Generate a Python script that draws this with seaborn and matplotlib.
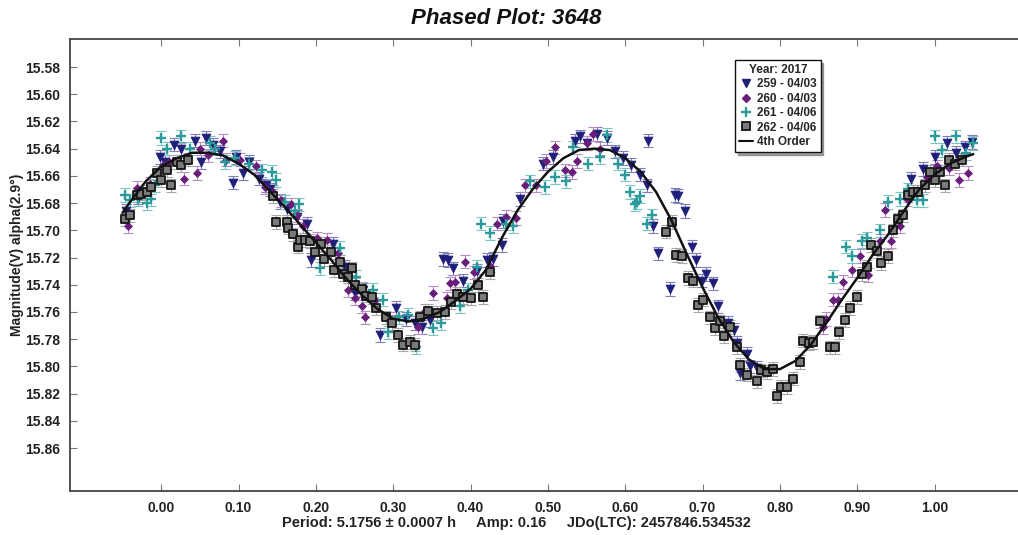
import matplotlib
matplotlib.use("Agg")
import matplotlib.pyplot as plt
import seaborn as sns
from matplotlib.lines import Line2D

# ---------------- data ----------------
TITLE = "Phased Plot: 3648"
YLABEL = "Magnitude(V) alpha(2.9°)"
XLABEL = "Period: 5.1756 ± 0.0007 h     Amp: 0.16     JDo(LTC): 2457846.534532"
LEGEND_TITLE = "Year: 2017"
SERIES_NAMES = ["259 - 04/03", "260 - 04/03", "261 - 04/06", "262 - 04/06", "4th Order"]

XTICKS = [0.00, 0.10, 0.20, 0.30, 0.40, 0.50, 0.60, 0.70, 0.80, 0.90, 1.00]
YTICKS = [15.58, 15.60, 15.62, 15.64, 15.66, 15.68, 15.70, 15.72, 15.74, 15.76,
          15.78, 15.80, 15.82, 15.84, 15.86]
ERR = 0.005

s259_phase = [-0.045, -0.030, -0.002, 0.005, 0.017, 0.025, 0.043, 0.052, 0.058, 0.067,
              0.076, 0.093, 0.097, 0.106, 0.114, 0.127, 0.136, 0.140, 0.153, 0.162,
              0.175, 0.188, 0.194, 0.222, 0.237, 0.250, 0.261, 0.283, 0.304, 0.317,
              0.328, 0.337, 0.347, 0.364, 0.371, 0.377, 0.390, 0.408, 0.421, 0.429,
              0.440, 0.442, 0.464, 0.494, 0.507, 0.535, 0.541, 0.550, 0.563, 0.576,
              0.587, 0.597, 0.608, 0.619, 0.628, 0.630, 0.636, 0.642, 0.658, 0.664,
              0.668, 0.677, 0.686, 0.692, 0.699, 0.705, 0.714, 0.720, 0.733, 0.740,
              0.745, 0.757, 0.748, 0.761, 0.770, 0.970, 0.985, 1.000, 1.016, 1.028,
              1.039, 1.048]
s259_mag = [15.686, 15.676, 15.646, 15.650, 15.637, 15.640, 15.634, 15.650, 15.632, 15.637,
            15.642, 15.665, 15.646, 15.658, 15.650, 15.662, 15.667, 15.670, 15.679, 15.684,
            15.690, 15.695, 15.722, 15.710, 15.727, 15.746, 15.744, 15.777, 15.757, 15.765,
            15.768, 15.771, 15.766, 15.721, 15.722, 15.728, 15.737, 15.730, 15.722, 15.721,
            15.711, 15.693, 15.677, 15.651, 15.646, 15.634, 15.631, 15.636, 15.629, 15.632,
            15.642, 15.647, 15.652, 15.659, 15.667, 15.634, 15.697, 15.717, 15.743, 15.674,
            15.675, 15.686, 15.712, 15.722, 15.737, 15.732, 15.739, 15.756, 15.768, 15.773,
            15.783, 15.791, 15.805, 15.800, 15.801, 15.662, 15.655, 15.646, 15.636, 15.643,
            15.639, 15.635]

s260_phase = [-0.043, -0.032, -0.015, 0.002, 0.010, 0.030, 0.046, 0.050, 0.060, 0.080,
              0.084, 0.102, 0.123, 0.134, 0.145, 0.155, 0.168, 0.175, 0.183, 0.201,
              0.214, 0.229, 0.242, 0.250, 0.259, 0.263, 0.276, 0.296, 0.332, 0.341,
              0.352, 0.369, 0.373, 0.380, 0.393, 0.405, 0.425, 0.434, 0.446, 0.459,
              0.470, 0.485, 0.498, 0.509, 0.522, 0.531, 0.537, 0.550, 0.558, 0.567,
              0.856, 0.860, 0.869, 0.875, 0.882, 0.893, 0.904, 0.914, 0.930, 0.936,
              0.943, 0.955, 0.964, 0.977, 0.990, 1.003, 1.018, 1.031, 1.043]
s260_mag = [15.697, 15.669, 15.666, 15.652, 15.650, 15.662, 15.658, 15.640, 15.645, 15.634,
            15.648, 15.648, 15.653, 15.668, 15.672, 15.678, 15.681, 15.689, 15.697, 15.706,
            15.707, 15.717, 15.744, 15.750, 15.756, 15.764, 15.751, 15.765, 15.771, 15.759,
            15.746, 15.750, 15.739, 15.738, 15.723, 15.731, 15.726, 15.695, 15.690, 15.691,
            15.667, 15.667, 15.649, 15.639, 15.656, 15.657, 15.649, 15.636, 15.629, 15.640,
            15.771, 15.765, 15.751, 15.751, 15.738, 15.729, 15.719, 15.733, 15.708, 15.685,
            15.708, 15.697, 15.677, 15.672, 15.661, 15.653, 15.654, 15.663, 15.658]

s261_phase = [-0.047, -0.041, -0.030, -0.019, -0.013, -0.008, 0.000, 0.007, 0.026, 0.037,
              0.063, 0.070, 0.082, 0.095, 0.114, 0.130, 0.143, 0.149, 0.160, 0.173,
              0.178, 0.205, 0.231, 0.252, 0.274, 0.287, 0.293, 0.308, 0.319, 0.330,
              0.352, 0.362, 0.386, 0.397, 0.408, 0.414, 0.425, 0.446, 0.455, 0.477,
              0.496, 0.509, 0.524, 0.533, 0.552, 0.567, 0.576, 0.591, 0.600, 0.606,
              0.612, 0.615, 0.619, 0.628, 0.634, 0.869, 0.886, 0.893, 0.906, 0.912,
              0.929, 0.940, 0.955, 0.966, 0.977, 0.985, 1.000, 1.009, 1.028, 1.041,
              1.050]
s261_mag = [15.674, 15.678, 15.677, 15.680, 15.677, 15.667, 15.632, 15.640, 15.631, 15.640,
            15.636, 15.640, 15.650, 15.647, 15.651, 15.656, 15.657, 15.663, 15.679, 15.686,
            15.681, 15.728, 15.713, 15.734, 15.744, 15.751, 15.775, 15.764, 15.762, 15.786,
            15.772, 15.768, 15.756, 15.744, 15.727, 15.695, 15.702, 15.695, 15.697, 15.664,
            15.668, 15.661, 15.664, 15.639, 15.651, 15.646, 15.630, 15.651, 15.659, 15.672,
            15.681, 15.679, 15.675, 15.695, 15.689, 15.734, 15.712, 15.719, 15.708, 15.706,
            15.700, 15.679, 15.677, 15.670, 15.678, 15.678, 15.631, 15.641, 15.631, 15.643,
            15.636]

s262_phase = [-0.047, -0.041, -0.032, -0.026, -0.019, -0.013, -0.006, 0.000, 0.007, 0.013,
              0.020, 0.026, 0.035, 0.145, 0.149, 0.162, 0.164, 0.170, 0.177, 0.179,
              0.186, 0.192, 0.199, 0.207, 0.211, 0.220, 0.224, 0.231, 0.235, 0.242,
              0.246, 0.250, 0.259, 0.265, 0.272, 0.278, 0.291, 0.298, 0.306, 0.313,
              0.321, 0.328, 0.334, 0.345, 0.356, 0.367, 0.375, 0.382, 0.390, 0.401,
              0.410, 0.416, 0.425, 0.653, 0.660, 0.666, 0.673, 0.681, 0.688, 0.694,
              0.701, 0.709, 0.716, 0.722, 0.728, 0.735, 0.744, 0.748, 0.757, 0.770,
              0.776, 0.783, 0.791, 0.796, 0.802, 0.809, 0.817, 0.826, 0.830, 0.837,
              0.843, 0.852, 0.865, 0.871, 0.877, 0.884, 0.891, 0.899, 0.906, 0.912,
              0.918, 0.925, 0.931, 0.940, 0.946, 0.953, 0.959, 0.966, 0.972, 0.979,
              0.987, 0.994, 1.000, 1.007, 1.013, 1.019, 1.026, 1.035]
s262_mag = [15.692, 15.689, 15.674, 15.673, 15.672, 15.668, 15.658, 15.663, 15.656, 15.667,
            15.650, 15.652, 15.648, 15.675, 15.694, 15.694, 15.698, 15.703, 15.712, 15.707,
            15.707, 15.708, 15.716, 15.710, 15.721, 15.716, 15.729, 15.723, 15.732, 15.734,
            15.728, 15.740, 15.743, 15.748, 15.749, 15.757, 15.764, 15.768, 15.777, 15.784,
            15.782, 15.784, 15.764, 15.759, 15.761, 15.760, 15.753, 15.747, 15.749, 15.750,
            15.740, 15.749, 15.731, 15.701, 15.694, 15.718, 15.719, 15.735, 15.737, 15.755,
            15.751, 15.764, 15.772, 15.767, 15.778, 15.771, 15.786, 15.799, 15.806, 15.811,
            15.803, 15.804, 15.802, 15.822, 15.815, 15.815, 15.809, 15.797, 15.781, 15.783,
            15.782, 15.767, 15.786, 15.786, 15.775, 15.766, 15.757, 15.749, 15.732, 15.727,
            15.711, 15.715, 15.724, 15.719, 15.700, 15.692, 15.689, 15.674, 15.672, 15.672,
            15.667, 15.657, 15.663, 15.657, 15.667, 15.648, 15.651, 15.648]

# 4th order Fourier fit
fit_phase = [-0.05, -0.04, -0.02, 0.00, 0.02, 0.04, 0.06, 0.08, 0.10, 0.12,
             0.14, 0.16, 0.18, 0.20, 0.22, 0.24, 0.26, 0.28, 0.30, 0.32,
             0.34, 0.36, 0.38, 0.40, 0.42, 0.44, 0.46, 0.48, 0.50, 0.52,
             0.54, 0.56, 0.58, 0.60, 0.62, 0.64, 0.66, 0.68, 0.70, 0.72,
             0.74, 0.76, 0.78, 0.80, 0.82, 0.84, 0.86, 0.88, 0.90, 0.92,
             0.94, 0.96, 0.98, 1.00, 1.02, 1.04, 1.05]
fit_mag = [15.687, 15.679, 15.664, 15.653, 15.647, 15.643, 15.643, 15.645, 15.651, 15.659,
           15.671, 15.683, 15.696, 15.709, 15.722, 15.736, 15.748, 15.758, 15.765, 15.767,
           15.765, 15.760, 15.752, 15.743, 15.729, 15.706, 15.686, 15.670, 15.657, 15.647,
           15.641, 15.640, 15.641, 15.647, 15.657, 15.672, 15.693, 15.718, 15.742, 15.764,
           15.782, 15.795, 15.802, 15.802, 15.796, 15.784, 15.768, 15.751, 15.735, 15.718,
           15.703, 15.686, 15.670, 15.659, 15.651, 15.646, 15.644]

# ---------------- style ----------------
sns.set_theme(style="white")
plt.rcParams['font.family'] = ['Liberation Sans', 'DejaVu Sans']
plt.rcParams['font.weight'] = 'bold'

C259 = '#1f1f7a'
C260 = '#6a1e7c'
C261 = '#2b9a9a'
C262_FACE = '#7a7a7a'
C262_EDGE = '#151515'

fig = plt.figure(figsize=(10.18, 5.35), dpi=100)
ax = fig.add_axes([70/1018, 44/535, 952/1018, 452/535])

# error bars
ebk = dict(fmt='none', elinewidth=0.8, capsize=3.5, capthick=0.8, zorder=1)
ax.errorbar(s259_phase, s259_mag, yerr=ERR, ecolor='#7e7eb8', **ebk)
ax.errorbar(s260_phase, s260_mag, yerr=ERR, ecolor='#b98cc4', **ebk)
ax.errorbar(s261_phase, s261_mag, yerr=ERR, ecolor='#7cc4c4', **ebk)
ax.errorbar(s262_phase, s262_mag, yerr=ERR, ecolor='#a8a8a8', **ebk)

# markers
sns.scatterplot(x=s259_phase, y=s259_mag, marker='v', s=40, color=C259,
                edgecolor=C259, linewidth=0.6, ax=ax, zorder=3)
sns.scatterplot(x=s260_phase, y=s260_mag, marker='D', s=16, color=C260,
                edgecolor=C260, linewidth=0.6, ax=ax, zorder=3)
sns.scatterplot(x=s261_phase, y=s261_mag, marker='+', s=55, color=C261,
                linewidth=1.7, ax=ax, zorder=3)
sns.scatterplot(x=s262_phase, y=s262_mag, marker='s', s=32, color=C262_FACE,
                edgecolor=C262_EDGE, linewidth=1.3, ax=ax, zorder=4)

sns.lineplot(x=fit_phase, y=fit_mag, sort=False, estimator=None, color='#111111',
             linewidth=1.8, ax=ax, zorder=5)

ax.set_xlim(-0.118, 1.113)
ax.set_ylim(15.8916, 15.5594)
ax.set_xticks(XTICKS)
ax.set_xticklabels([f"{v:.2f}" for v in XTICKS])
ax.set_yticks(YTICKS)
ax.set_yticklabels([f"{v:.2f}" for v in YTICKS])
ax.tick_params(axis='both', which='both', direction='in', length=5, width=0.8,
               color='#777777', labelsize=10, pad=7, labelcolor='#222222')
ax.tick_params(axis='x', top=True, bottom=True)
ax.tick_params(axis='y', left=True, right=False)
for lab in ax.get_xticklabels() + ax.get_yticklabels():
    lab.set_fontweight('bold')
for side in ['left', 'top', 'bottom']:
    ax.spines[side].set_color('#444444')
    ax.spines[side].set_linewidth(1.3)
ax.spines['right'].set_visible(False)
ax.set_xlabel('')
ax.set_ylabel('')
ax.grid(False)

# titles
fig.text(506/1018, 1 - 19/535, TITLE, ha='center', va='center', fontsize=16,
         fontweight='bold', fontstyle='italic', color='#111111')
fig.text(516/1018, 1 - 523/535, XLABEL, ha='center', va='center', fontsize=10.5,
         fontweight='bold', color='#222222')
fig.text(17/1018, 1 - 255/535, YLABEL, ha='center', va='center', rotation=90,
         fontsize=10, fontweight='bold', color='#222222')

# legend
handles = [
    Line2D([], [], marker='v', ls='none', color=C259, markersize=6),
    Line2D([], [], marker='D', ls='none', color=C260, markersize=4),
    Line2D([], [], marker='+', ls='none', color=C261, markersize=7, markeredgewidth=1.7),
    Line2D([], [], marker='s', ls='none', markerfacecolor=C262_FACE,
           markeredgecolor=C262_EDGE, markersize=5.5, markeredgewidth=1.3),
    Line2D([], [], color='#111111', linewidth=1.5),
]
leg = ax.legend(handles, SERIES_NAMES, title=LEGEND_TITLE, loc='upper left',
                bbox_to_anchor=(735/1018, 1 - 60/535), bbox_transform=fig.transFigure,
                borderaxespad=0, frameon=True, fancybox=False, shadow=True,
                edgecolor='#111111', facecolor='white', framealpha=1,
                prop={'weight': 'bold', 'size': 8.5},
                title_fontproperties={'weight': 'bold', 'size': 8.5},
                handlelength=1.2, handletextpad=0.3, labelspacing=0.2,
                borderpad=0.35)
leg.get_frame().set_linewidth(1.0)
leg.set_zorder(10)

fig.savefig('out.png', dpi=100)
